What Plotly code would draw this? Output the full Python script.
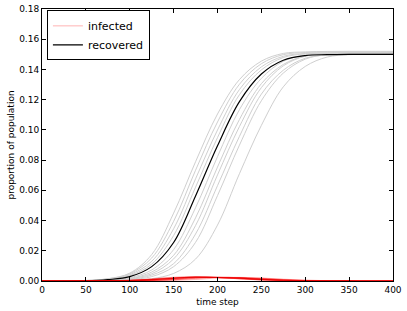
import plotly.graph_objects as go

# time steps where values were read
t = [0, 25, 50, 75, 100, 125, 150, 175, 200, 225, 250, 275, 300, 325, 350, 375, 400]

# recovered: mean curve (black) and individual runs (gray)
recovered_mean = [0.0, 0.00001, 0.0001, 0.0009, 0.0029, 0.0095, 0.0255, 0.0563, 0.0895, 0.1187,
                  0.1370, 0.1461, 0.1492, 0.1498, 0.1500, 0.1500, 0.1500]

rec_run_1 = [0.0, 0.00005, 0.0004, 0.0015, 0.0052, 0.0175, 0.0449, 0.0789, 0.1105, 0.1333,
             0.1455, 0.1506, 0.1516, 0.1519, 0.1520, 0.1520, 0.1520]
rec_run_2 = [0.0, 0.00003, 0.0003, 0.0014, 0.0048, 0.0152, 0.0395, 0.0733, 0.1052, 0.1302,
             0.1438, 0.1498, 0.1512, 0.1516, 0.1517, 0.1517, 0.1517]
rec_run_3 = [0.0, 0.00002, 0.0002, 0.0012, 0.0042, 0.0130, 0.0346, 0.0676, 0.0999, 0.1267,
             0.1417, 0.1487, 0.1506, 0.1510, 0.1512, 0.1512, 0.1512]
rec_run_4 = [0.0, 0.00002, 0.00014, 0.0010, 0.0036, 0.0112, 0.0301, 0.0621, 0.0949, 0.1233,
             0.1397, 0.1479, 0.1503, 0.1508, 0.1510, 0.1510, 0.1510]
rec_run_5 = [0.0, 0.0, 0.00006, 0.0005, 0.0022, 0.0073, 0.0208, 0.0485, 0.0823, 0.1134,
             0.1341, 0.1454, 0.1496, 0.1505, 0.1507, 0.1508, 0.1508]
rec_run_6 = [0.0, 0.0, 0.00004, 0.0003, 0.0017, 0.0059, 0.0170, 0.0418, 0.0754, 0.1069,
             0.1306, 0.1433, 0.1489, 0.1500, 0.1504, 0.1505, 0.1505]
rec_run_7 = [0.0, 0.0, 0.00003, 0.0002, 0.0015, 0.0048, 0.0146, 0.0367, 0.0702, 0.1022,
             0.1280, 0.1424, 0.1488, 0.1504, 0.1509, 0.1510, 0.1510]
rec_run_8 = [0.0, 0.0, 0.00002, 0.00015, 0.0011, 0.0039, 0.0115, 0.0311, 0.0631, 0.0957,
             0.1237, 0.1395, 0.1474, 0.1496, 0.1501, 0.1503, 0.1503]
rec_run_9 = [0.0, 0.0, 0.0, 0.0001, 0.0009, 0.0029, 0.0095, 0.0256, 0.0565, 0.0899,
             0.1193, 0.1376, 0.1468, 0.1499, 0.1505, 0.1507, 0.1507]
rec_run_10 = [0.0, 0.0, 0.0, 0.00002, 0.0002, 0.0015, 0.0050, 0.0145, 0.0370, 0.0710,
              0.1030, 0.1285, 0.1420, 0.1482, 0.1498, 0.1501, 0.1502]

# infected: mean curve and individual runs
infected_mean = [0.0, 0.00001, 0.00003, 0.0001, 0.0003, 0.0009, 0.0018, 0.0025, 0.0023, 0.0019,
                 0.0011, 0.0005, 0.0002, 0.00006, 0.00002, 0.0, 0.0]

inf_run_1 = [0.0, 0.00001, 0.0001, 0.0002, 0.0005, 0.0014, 0.0025, 0.0027, 0.0023, 0.0014,
             0.0006, 0.0002, 0.00005, 0.00002, 0.0, 0.0, 0.0]
inf_run_2 = [0.0, 0.00001, 0.00006, 0.0002, 0.00046, 0.0013, 0.0023, 0.0026, 0.0023, 0.0015,
             0.0007, 0.00024, 0.00007, 0.00002, 0.0, 0.0, 0.0]
inf_run_3 = [0.0, 0.0, 0.00005, 0.00017, 0.00039, 0.0010, 0.0021, 0.0026, 0.0022, 0.0015,
             0.00078, 0.00028, 0.0001, 0.00003, 0.00001, 0.0, 0.0]
inf_run_4 = [0.0, 0.0, 0.00004, 0.00015, 0.00034, 0.0009, 0.0019, 0.0025, 0.0023, 0.0016,
             0.00088, 0.0003, 0.0001, 0.00003, 0.00001, 0.0, 0.0]
inf_run_5 = [0.0, 0.0, 0.00002, 0.00008, 0.00022, 0.00058, 0.0015, 0.0024, 0.0024, 0.0020,
             0.0012, 0.0005, 0.00017, 0.00005, 0.00001, 0.0, 0.0]
inf_run_6 = [0.0, 0.0, 0.00002, 0.00007, 0.0002, 0.00047, 0.0013, 0.0022, 0.0024, 0.0020,
             0.0013, 0.0006, 0.0002, 0.00006, 0.00002, 0.0, 0.0]
inf_run_7 = [0.0, 0.0, 0.00001, 0.00005, 0.00017, 0.0004, 0.0011, 0.0022, 0.0025, 0.0022,
             0.00145, 0.0007, 0.00025, 0.00008, 0.00002, 0.0, 0.0]
inf_run_8 = [0.0, 0.0, 0.0, 0.00004, 0.00013, 0.00033, 0.00085, 0.0018, 0.0024, 0.0022,
             0.0015, 0.0008, 0.0003, 0.0001, 0.00003, 0.0, 0.0]
inf_run_9 = [0.0, 0.0, 0.0, 0.00003, 0.0001, 0.0003, 0.0008, 0.0017, 0.00245, 0.0023,
             0.0018, 0.0010, 0.0004, 0.00012, 0.00003, 0.00001, 0.0]
inf_run_10 = [0.0, 0.0, 0.0, 0.0, 0.00005, 0.00017, 0.0004, 0.001, 0.0020, 0.0024,
              0.0020, 0.0012, 0.0006, 0.0002, 0.00007, 0.00002, 0.0]

recovered_runs = [rec_run_1, rec_run_2, rec_run_3, rec_run_4, rec_run_5,
                  rec_run_6, rec_run_7, rec_run_8, rec_run_9, rec_run_10]
infected_runs = [inf_run_1, inf_run_2, inf_run_3, inf_run_4, inf_run_5,
                 inf_run_6, inf_run_7, inf_run_8, inf_run_9, inf_run_10]

x_ticks = [0, 50, 100, 150, 200, 250, 300, 350, 400]
y_ticks = [0.00, 0.02, 0.04, 0.06, 0.08, 0.10, 0.12, 0.14, 0.16, 0.18]

FONT = "DejaVu Sans"

fig = go.Figure()

for run in recovered_runs:
    fig.add_trace(go.Scatter(x=t, y=run, mode="lines", line=dict(color="#cfcfcf", width=1, shape="spline"),
                             showlegend=False, hoverinfo="skip"))

fig.add_trace(go.Scatter(x=t, y=recovered_mean, mode="lines", name="recovered",
                         line=dict(color="black", width=1.2, shape="spline"), legendrank=2))

for i, run in enumerate(infected_runs):
    fig.add_trace(go.Scatter(x=t, y=run, mode="lines", name="infected",
                             line=dict(color="rgba(255,0,0,0.3)", width=1, shape="spline"),
                             showlegend=(i == 0), legendrank=1))

fig.add_trace(go.Scatter(x=t, y=infected_mean, mode="lines",
                         line=dict(color="rgba(230,0,0,0.9)", width=1.2, shape="spline"),
                         showlegend=False))

axis_common = dict(
    showline=True, linecolor="black", linewidth=1, mirror="ticks",
    ticks="inside", ticklen=4, tickwidth=1, tickcolor="black",
    showgrid=False, zeroline=False, automargin=False,
    tickfont=dict(family=FONT, size=9, color="black"),
)

fig.update_xaxes(range=[0, 400], tickvals=x_ticks, ticktext=[str(v) for v in x_ticks],
                 title=dict(text="time step", font=dict(family=FONT, size=9, color="black"), standoff=4),
                 **axis_common)
fig.update_yaxes(range=[0, 0.18], tickvals=y_ticks, ticktext=[f"{v:.2f}" for v in y_ticks],
                 title=dict(text="proportion of population", font=dict(family=FONT, size=9, color="black"), standoff=3),
                 **axis_common)

fig.update_layout(
    width=407, height=311,
    margin=dict(l=42, r=14, t=9, b=30),
    paper_bgcolor="white", plot_bgcolor="white",
    font=dict(family=FONT, size=9, color="black"),
    legend=dict(x=0.014, y=0.995, xanchor="left", yanchor="top",
                bgcolor="white", bordercolor="black", borderwidth=1,
                font=dict(family=FONT, size=11, color="black"),
                itemwidth=30, tracegroupgap=0),
)

fig.write_html("out.html", config={"displayModeBar": False},
               post_script="document.body.style.margin='0px';document.body.style.padding='0px';")
